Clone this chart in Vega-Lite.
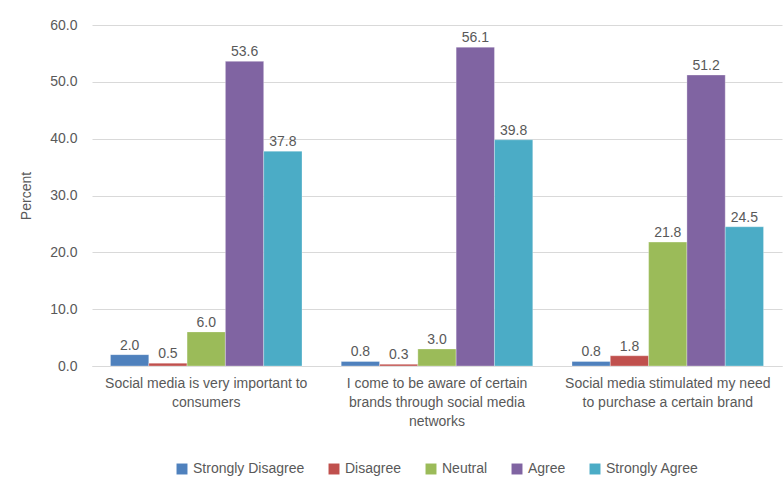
{
  "$schema": "https://vega.github.io/schema/vega-lite/v6.json",
  "autosize": {"type": "fit", "contains": "padding"},
  "width": 784,
  "height": 484,
  "padding": {"left": 19, "top": 18, "right": 2, "bottom": 8},
  "background": "white",
  "config": {
    "font": "Liberation Sans",
    "view": {"stroke": null},
    "axis": {"labelColor": "#595959", "titleColor": "#595959", "labelFontSize": 14, "titleFontSize": 14, "titleFontWeight": "normal", "labelFont": "Liberation Sans", "titleFont": "Liberation Sans"},
    "legend": {"layout": {"bottom": {"anchor": "middle"}}}
  },
  "data": {
    "values": [
      {"q": "Q1", "response": "Strongly Disagree", "value": 2.0},
      {"q": "Q1", "response": "Disagree", "value": 0.5},
      {"q": "Q1", "response": "Neutral", "value": 6.0},
      {"q": "Q1", "response": "Agree", "value": 53.6},
      {"q": "Q1", "response": "Strongly Agree", "value": 37.8},
      {"q": "Q2", "response": "Strongly Disagree", "value": 0.8},
      {"q": "Q2", "response": "Disagree", "value": 0.3},
      {"q": "Q2", "response": "Neutral", "value": 3.0},
      {"q": "Q2", "response": "Agree", "value": 56.1},
      {"q": "Q2", "response": "Strongly Agree", "value": 39.8},
      {"q": "Q3", "response": "Strongly Disagree", "value": 0.8},
      {"q": "Q3", "response": "Disagree", "value": 1.8},
      {"q": "Q3", "response": "Neutral", "value": 21.8},
      {"q": "Q3", "response": "Agree", "value": 51.2},
      {"q": "Q3", "response": "Strongly Agree", "value": 24.5}
    ]
  },
  "encoding": {
    "x": {
      "field": "q",
      "type": "nominal",
      "sort": ["Q1", "Q2", "Q3"],
      "scale": {"paddingInner": 0.17, "paddingOuter": 0.08},
      "axis": {
        "title": null,
        "labelAngle": 0,
        "ticks": false,
        "domainColor": "#d9d9d9",
        "labelPadding": 10,
        "labelLimit": 0,
        "labelLineHeight": 19,
        "labelExpr": "datum.value == 'Q1' ? ['Social media is very important to', 'consumers'] : datum.value == 'Q2' ? ['I come to be aware of certain', 'brands  through social media', 'networks'] : ['Social media stimulated my need', 'to purchase a certain brand']"
      }
    },
    "xOffset": {
      "field": "response",
      "type": "nominal",
      "sort": ["Strongly Disagree", "Disagree", "Neutral", "Agree", "Strongly Agree"]
    },
    "y": {
      "field": "value",
      "type": "quantitative",
      "scale": {"domain": [0, 60]},
      "axis": {
        "title": "Percent",
        "values": [0, 10, 20, 30, 40, 50, 60],
        "format": ".1f",
        "ticks": false,
        "domain": false,
        "gridColor": "#d9d9d9",
        "labelPadding": 15,
        "titlePadding": 16
      }
    }
  },
  "layer": [
    {
      "mark": {"type": "bar", "stroke": "white", "strokeWidth": 0.5, "strokeOpacity": 0.6},
      "encoding": {
        "color": {
          "field": "response",
          "type": "nominal",
          "sort": ["Strongly Disagree", "Disagree", "Neutral", "Agree", "Strongly Agree"],
          "scale": {
            "domain": ["Strongly Disagree", "Disagree", "Neutral", "Agree", "Strongly Agree"],
            "range": ["#4F81BD", "#C0504D", "#9BBB59", "#8064A2", "#4BACC6"]
          },
          "legend": {
            "title": null,
            "orient": "bottom",
            "direction": "horizontal",
            "symbolType": "square",
            "symbolSize": 120,
            "symbolStrokeWidth": 0,
            "labelFontSize": 14,
            "labelFont": "Liberation Sans",
            "labelColor": "#595959",
            "columnPadding": 22,
            "offset": 34
          }
        }
      }
    },
    {
      "mark": {"type": "text", "dy": -9, "fontSize": 14, "font": "Liberation Sans", "color": "#595959"},
      "encoding": {
        "text": {"field": "value", "type": "quantitative", "format": ".1f"}
      }
    }
  ]
}
